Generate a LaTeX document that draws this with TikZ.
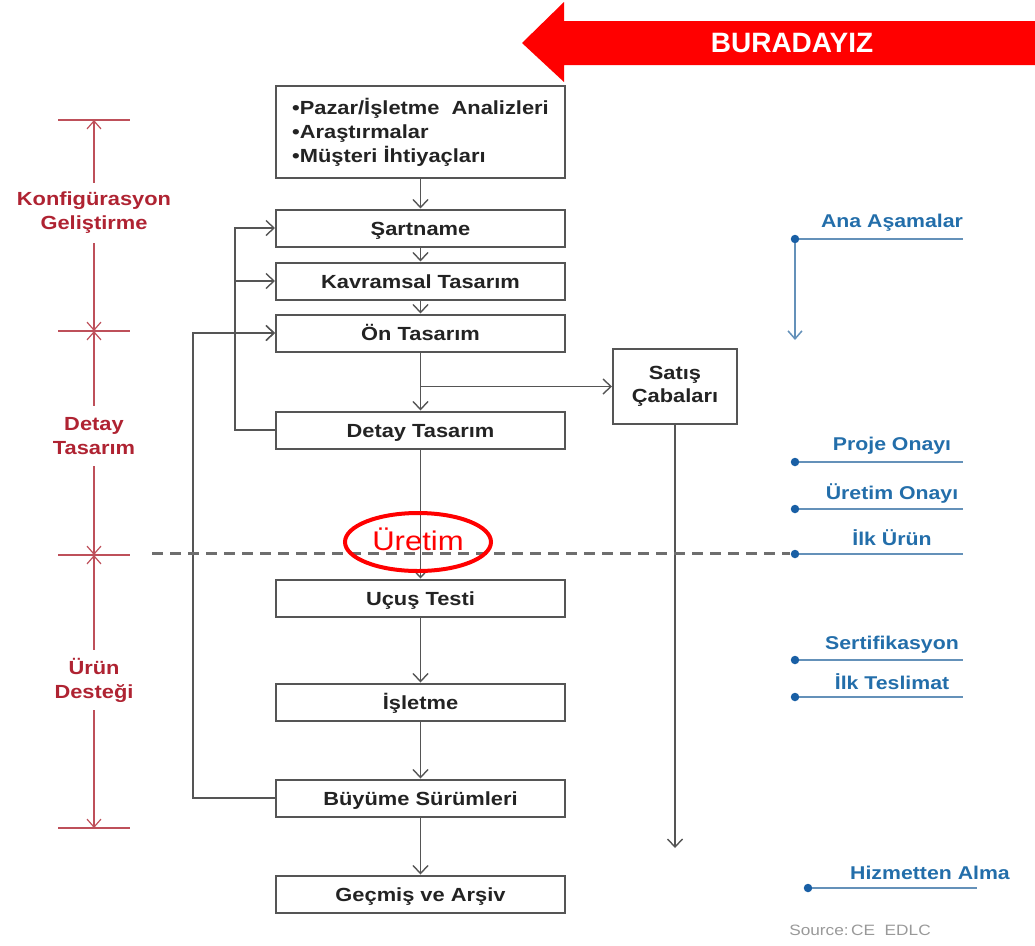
\documentclass[tikz,border=0pt]{standalone}
\usepackage{fontspec}
\setmainfont{Liberation Sans}
\newfontfamily\bx[FakeStretch=1.15]{Liberation Sans}
\usetikzlibrary{arrows.meta,shapes.geometric}
\definecolor{boxgray}{RGB}{85,85,85}
\definecolor{boxtext}{RGB}{35,35,35}
\definecolor{dimred}{RGB}{175,35,50}
\definecolor{dimline}{RGB}{190,80,90}
\definecolor{mtext}{RGB}{35,110,170}
\definecolor{mlinec}{RGB}{100,145,185}
\definecolor{mdotc}{RGB}{25,95,165}
\definecolor{dashgray}{RGB}{110,110,110}
\definecolor{bigred}{RGB}{255,0,0}
\begin{document}
\begin{tikzpicture}[x=1pt,y=-1pt,
  box/.style={draw=boxgray,line width=2pt,fill=white,minimum width=289pt,minimum height=37pt,inner sep=0pt,font=\bx\bfseries\fontsize{19}{24}\selectfont,text=boxtext},
  onebox/.style={box,text height=14pt,text depth=0pt},
  arr/.style={draw=boxgray,line width=1.4pt,-{Straight Barb[length=8pt,width=15pt,line width=1.4pt]}},
  dimlab/.style={text=dimred,font=\bx\bfseries\fontsize{19}{24}\selectfont,align=center,minimum height=60pt,inner sep=0pt},
  dimarr/.style={draw=dimline,line width=1.2pt,-{Straight Barb[length=8pt,width=14pt,line width=1.2pt]}},
  tickln/.style={draw=dimline,line width=1.2pt},
  ms/.style={text=mtext,font=\bx\bfseries\fontsize{18.5}{22}\selectfont,inner sep=0pt},
  mline/.style={draw=mlinec,line width=1.5pt},
  mdot/.style={circle,fill=mdotc,inner sep=0pt,minimum size=8.5pt},
]
\useasboundingbox (0,0) rectangle (1035,945);

% big red arrow
\fill[bigred] (522,43) -- (564,2) -- (564,21) -- (1035,21) -- (1035,65) -- (564,65) -- (564,82) -- cycle;
\node[text=white,font=\bfseries\fontsize{28}{30}\selectfont,inner sep=0pt] (here) at (792,43) {BURADAYIZ};

% boxes
\node[box,minimum height=92pt,align=left] (top) at (420.5,132) {•Pazar/İşletme\ \ Analizleri\\•Araştırmalar\\•Müşteri İhtiyaçları};
\node[onebox] (sart) at (420.5,228) {Şartname};
\node[onebox] (kav) at (420.5,281) {Kavramsal Tasarım};
\node[onebox] (on) at (420.5,333) {Ön Tasarım};
\node[onebox] (det) at (420.5,430) {Detay Tasarım};
\node[onebox] (ucus) at (420.5,598) {Uçuş Testi};
\node[onebox] (isl) at (420.5,702) {İşletme};
\node[onebox] (buy) at (420.5,798) {Büyüme Sürümleri};
\node[onebox] (gec) at (420.5,894) {Geçmiş ve Arşiv};
\node[box,minimum width=124pt,minimum height=75pt,align=center,font=\bx\bfseries\fontsize{19}{23}\selectfont] (sat) at (675,386.5) {Satış\\Çabaları};

% main flow
\draw[arr] (top) -- (sart);
\draw[arr] (sart) -- (kav);
\draw[arr] (kav) -- (on);
\draw[arr] (on) -- (det);
\draw[arr] (det) -- (ucus);
\draw[arr] (ucus) -- (isl);
\draw[arr] (isl) -- (buy);
\draw[arr] (buy) -- (gec);
\coordinate (br) at (420.5,386.5);
\draw[arr] (br) -- (sat);
\coordinate (se) at (675,848);
\draw[arr] (sat.south) -- (se);

% feedback loops
\coordinate (fa) at (235,0);
\coordinate (fb) at (193,0);
\draw[arr] (det.west) -- (det.west -| fa) |- (sart.west);
\draw[arr] (kav.west -| fa) -- (kav.west);
\draw[arr] (on.west -| fa) -- (on.west);
\draw[arr] (buy.west) -- (buy.west -| fb) |- (on.west);

% dashed production line
\coordinate (dl) at (152,553);
\coordinate (dr) at (790,553);
\draw[dashgray,line width=3pt,dash pattern=on 11pt off 7pt] (dl) -- (dr);

% Uretim ellipse
\node[ellipse,draw=red,line width=4pt,minimum width=146pt,minimum height=58pt,inner sep=0pt,text=red,font=\bx\fontsize{27}{30}\selectfont] (ur) at (418,542) {\raisebox{6pt}{Üretim}};

% left dimension lines
\coordinate (t1) at (94,120);
\coordinate (t2) at (94,331);
\coordinate (t3) at (94,555);
\coordinate (t4) at (94,828);
\foreach \t in {t1,t2,t3,t4} \draw[tickln] ([xshift=-36pt]\t) -- ([xshift=36pt]\t);
\node[dimlab] (konf) at (94,213) {Konfigürasyon\\Geliştirme};
\node[dimlab] (dty) at (94,436) {Detay\\Tasarım};
\node[dimlab] (urn) at (94,680) {Ürün\\Desteği};
\draw[dimarr] (konf.north) -- (t1);
\draw[dimarr] (konf.south) -- (t2);
\draw[dimarr] (dty.north) -- (t2);
\draw[dimarr] (dty.south) -- (t3);
\draw[dimarr] (urn.north) -- (t3);
\draw[dimarr] (urn.south) -- (t4);

% milestones
\node[mdot] (m1) at (795,239) {};
\coordinate (m1e) at (963,239);
\draw[mline] (m1) -- (m1e);
\node[ms] (m1t) at (892,223) {Ana Aşamalar};
\coordinate (m1d) at (795,340);
\draw[mline,-{Straight Barb[length=8pt,width=14pt,line width=1.5pt]}] (m1) -- (m1d);

\node[mdot] (m2) at (795,462) {};
\coordinate (m2e) at (963,462);
\draw[mline] (m2) -- (m2e);
\node[ms] (m2t) at (892,446) {Proje Onayı};

\node[mdot] (m3) at (795,509) {};
\coordinate (m3e) at (963,509);
\draw[mline] (m3) -- (m3e);
\node[ms] (m3t) at (892,494) {Üretim Onayı};

\node[mdot] (m4) at (795,554) {};
\coordinate (m4e) at (963,554);
\draw[mline] (m4) -- (m4e);
\node[ms] (m4t) at (892,538) {İlk Ürün};

\node[mdot] (m5) at (795,660) {};
\coordinate (m5e) at (963,660);
\draw[mline] (m5) -- (m5e);
\node[ms] (m5t) at (892,645) {Sertifikasyon};

\node[mdot] (m6) at (795,697) {};
\coordinate (m6e) at (963,697);
\draw[mline] (m6) -- (m6e);
\node[ms] (m6t) at (892,682) {İlk Teslimat};

\node[mdot] (m7) at (808,888) {};
\coordinate (m7e) at (977,888);
\draw[mline] (m7) -- (m7e);
\node[ms] (m7t) at (930,873) {Hizmetten Alma};

\node[text=black!40,font=\bx\fontsize{15}{18}\selectfont,inner sep=0pt] (src) at (860,930) {Source:\,CE\ \ EDLC};
\end{tikzpicture}
\end{document}
